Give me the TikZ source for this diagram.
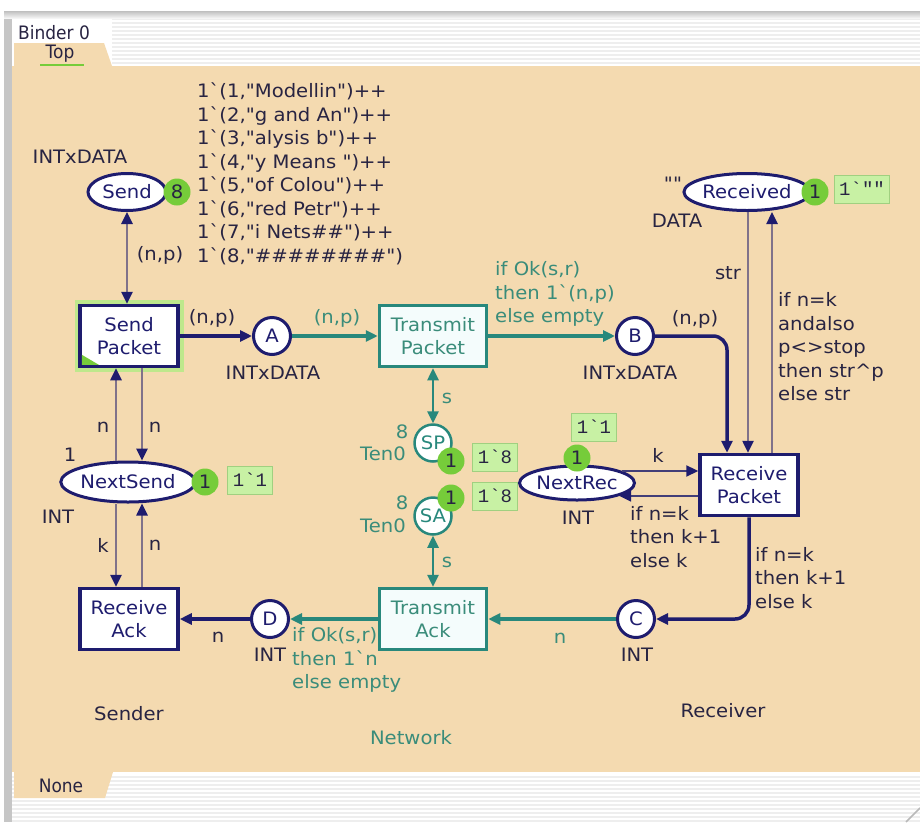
\documentclass[tikz,border=0pt]{standalone}
\usepackage{fontspec}
\setmainfont{DejaVu Sans}[FakeStretch=1.06,Ligatures=TeXOff]
\newfontfamily\tabfont{DejaVu Sans}[FakeStretch=0.92,Ligatures=TeXOff]
\newfontfamily\boxfont{Liberation Mono}[Ligatures=TeXOff]
\usetikzlibrary{shapes.geometric}
\usetikzlibrary{arrows.meta}
\definecolor{navy}{RGB}{30,28,110}
\definecolor{netteal}{RGB}{40,136,124}
\definecolor{nettext}{RGB}{58,140,122}
\definecolor{arcgray}{RGB}{128,114,138}
\definecolor{recarc}{RGB}{66,62,120}
\definecolor{ink}{RGB}{40,36,66}
\definecolor{beige}{RGB}{244,218,176}
\definecolor{tokgreen}{RGB}{118,204,58}
\definecolor{boxgreen}{RGB}{200,241,164}
\definecolor{boxedge}{RGB}{160,208,128}
\definecolor{glowgreen}{RGB}{190,232,140}
\definecolor{netfill}{RGB}{244,252,252}
\newcommand{\marking}[5]{%%
  %% The token count and the box with the current marking.
  \node[tokenStyle] (#1Tok) at (#2) {#3};
  \node[boxStyle] (#1Box) at (#4) {#5};
}
\newcommand{\windowFrame}{%%
  %% White page with the beige sheet.
  \fill[white] (0,0) rectangle (920,822);
  \fill[beige] (12,66) rectangle (920,772);
  %% Stripes of the tab bars.
  \foreach \ys in {19,23,...,63} \draw[gray!13,line width=1.5pt] (112,\ys) -- (920,\ys);
  \foreach \ys in {777,781,...,821} \draw[gray!13,line width=1.5pt] (12,\ys) -- (920,\ys);
  %% The grey border.
  \fill[gray!45] (4,12) rectangle (12,822);
  \shade[top color=gray!50,bottom color=gray!8] (4,11) rectangle (920,18);
  \draw[gray!55,line width=1.5pt] (906,822) -- (920,808);
  %% The tabs.
  \fill[beige] (14,43) -- (104,43) -- (112,66) -- (14,66) -- cycle;
  \fill[beige] (14,772) -- (113,772) -- (105,798) -- (14,798) -- cycle;
  \node[tabStyle,anchor=west] (binderName) at (18,33) {Binder 0};
  \node[tabStyle] (topTab) at (60,54) {Top};
  \draw[tokgreen,line width=1.5pt] (40,65) -- (84,65);
  \node[tabStyle] (noneTab) at (61,786) {None};
}

\begin{document}
\begin{tikzpicture}[%%
  x=1pt,y=-1pt,%%
  font=\fontsize{18.5}{23.5}\selectfont,%%
  >={Triangle[length=12pt,width=11pt]},%%
  placeStyle/.style={ellipse,draw=navy,line width=3pt,fill=white,inner sep=0pt,text=navy},%%
  portStyle/.style={circle,draw=navy,line width=3pt,fill=white,inner sep=0pt,minimum size=37pt,text=navy},%%
  netPortStyle/.style={circle,draw=netteal,line width=2.5pt,fill=white,inner sep=0pt,minimum size=37pt,text=netteal},%%
  transStyle/.style={rectangle,draw=navy,line width=3.5pt,fill=white,minimum width=98pt,minimum height=61pt,inner sep=0pt,align=center,text=navy},%%
  netTransStyle/.style={transStyle,draw=netteal,fill=netfill,minimum width=107pt,text=nettext},%%
  arcStyle/.style={draw=navy,line width=3.5pt},%%
  thinArcStyle/.style={draw=arcgray,line width=2.5pt,>={Triangle[length=12pt,width=11pt,color=navy]}},%%
  recArcStyle/.style={draw=recarc,line width=2.2pt,>={Triangle[length=12pt,width=11pt,color=navy]}},%%
  netArcStyle/.style={draw=netteal,line width=3.5pt},%%
  labelStyle/.style={text=ink,inner sep=0pt},%%
  netLabelStyle/.style={text=nettext,inner sep=0pt},%%
  guardStyle/.style={align=left,anchor=west},%%
  tabStyle/.style={text=ink,inner sep=0pt,font=\tabfont\fontsize{18.5}{20}\selectfont},%%
  tokenStyle/.style={circle,fill=tokgreen,minimum size=27pt,inner sep=0pt,text=ink},%%
  boxStyle/.style={fill=boxgreen,draw=boxedge,line width=1pt,minimum height=28pt,inner xsep=5pt,inner ysep=0pt,font=\boxfont\fontsize{19}{20}\selectfont,text=ink},%%
]
\useasboundingbox (0,0) rectangle (920,822);
%%
\windowFrame
%%
%% The sender.
\node[placeStyle,minimum width=78pt,minimum height=37pt] (send) at (127,192) {Send};
\node[transStyle,preaction={draw=glowgreen,line width=11pt}] (sendPacket) at (129,336) {Send\\Packet};
\node[placeStyle,minimum width=133pt,minimum height=40pt] (nextSend) at (128,482) {NextSend};
\node[transStyle] (receiveAck) at (129,619) {Receive\\Ack};
\node[portStyle] (portA) at (272,336) {A};
\node[portStyle] (portD) at (270,619) {D};
\fill[tokgreen] ([shift={(3.5,-3.5)}]sendPacket.south west) -- ++(0,-10) -- ++(17,10) -- cycle;
%% The network.
\node[netTransStyle] (transmitPacket) at (433,336) {Transmit\\Packet};
\node[netTransStyle] (transmitAck) at (433,619) {Transmit\\Ack};
\node[netPortStyle] (placeSP) at (433,443) {SP};
\node[netPortStyle] (placeSA) at (433,516) {SA};
%% The receiver.
\node[portStyle] (portB) at (635,336) {B};
\node[portStyle] (portC) at (636,619) {C};
\node[placeStyle,minimum width=112pt,minimum height=37pt] (received) at (747,192) {Received};
\node[placeStyle,minimum width=109pt,minimum height=34pt] (nextRec) at (577,483) {NextRec};
\node[transStyle] (receivePacket) at (749,485) {Receive\\Packet};
%%
%% Arcs of the sender.
\draw[thinArcStyle,<->] (send.south) -- (send.south |- sendPacket.north);
\draw[arcStyle,->] (sendPacket.east) -- (portA.west);
\draw[thinArcStyle,->] ([xshift=-12pt]nextSend.north) -- ([xshift=-12pt]nextSend.north |- sendPacket.south);
\draw[thinArcStyle,->] ([xshift=13pt]sendPacket.south) -- ([xshift=13pt]sendPacket.south |- nextSend.north);
\draw[thinArcStyle,->] ([xshift=-12pt]nextSend.south) -- ([xshift=-12pt]nextSend.south |- receiveAck.north);
\draw[thinArcStyle,->] ([xshift=13pt]receiveAck.north) -- ([xshift=13pt]receiveAck.north |- nextSend.south);
\draw[arcStyle,->] (portD.west) -- (receiveAck.east);
%% Arcs of the network.
\draw[netArcStyle,->] (portA.east) -- (transmitPacket.west);
\draw[netArcStyle,->] (transmitPacket.east) -- (portB.west);
\draw[netArcStyle,line width=2.5pt,<->] (transmitPacket.south) -- (placeSP.north);
\draw[netArcStyle,line width=2.5pt,<->] (placeSA.south) -- (transmitAck.north);
\draw[netArcStyle,->] (portC.west) -- (transmitAck.east);
\draw[netArcStyle,->] (transmitAck.west) -- (portD.east);
%% Arcs of the receiver.
\draw[arcStyle,->,rounded corners=14pt] (portB.east) -| ([xshift=-22pt]receivePacket.north);
\draw[thinArcStyle,->] ([xshift=1pt]received.south) -- ([xshift=1pt]received.south |- receivePacket.north);
\draw[thinArcStyle,->] ([xshift=23pt]receivePacket.north) -- ([xshift=23pt]receivePacket.north |- received.south);
\draw[recArcStyle,->] (nextRec.15) -- (nextRec.15 -| receivePacket.west);
\draw[recArcStyle,->] (nextRec.-17 -| receivePacket.west) -- (nextRec.-17);
\draw[arcStyle,->,rounded corners=14pt] (receivePacket.south) |- (portC.east);
%%
%% Markings.
\node[tokenStyle] (sendTok) at (177,192) {8};
\marking{nextSend}{205,482}{1}{250,480}{1`1}
\marking{placeSP}{451,461}{1}{495,457}{1`8}
\marking{placeSA}{451,498}{1}{495,496}{1`8}
\marking{nextRec}{577,458}{1}{594,427}{1`1}
\marking{received}{815,192}{1}{862,189}{1`""}
%%
%% Colour sets and initial markings.
\node[labelStyle] (sendType) at (80,157) {INTxDATA};
\node[labelStyle,guardStyle] (sendInit) at (197,174) {1`(1,"Modellin")++\\1`(2,"g and An")++\\1`(3,"alysis b")++\\1`(4,"y Means ")++\\1`(5,"of Colou")++\\1`(6,"red Petr")++\\1`(7,"i Nets\#\#")++\\1`(8,"\#\#\#\#\#\#\#\#")};
\node[labelStyle] (aType) at (273,373) {INTxDATA};
\node[labelStyle] (bType) at (630,373) {INTxDATA};
\node[labelStyle] (receivedInit) at (673,184) {""};
\node[labelStyle] (receivedType) at (677,221) {DATA};
\node[labelStyle] (nextSendInit) at (70,455) {1};
\node[labelStyle] (nextSendType) at (58,517) {INT};
\node[labelStyle] (nextRecType) at (578,518) {INT};
\node[labelStyle] (cType) at (637,655) {INT};
\node[labelStyle] (dType) at (270,655) {INT};
\node[netLabelStyle] (spInit) at (402,432) {8};
\node[netLabelStyle] (spType) at (383,454) {Ten0};
\node[netLabelStyle] (saInit) at (402,503) {8};
\node[netLabelStyle] (saType) at (383,526) {Ten0};
%%
%% Arc inscriptions.
\node[labelStyle] (sendArcLabel) at (160,255) {(n,p)};
\node[labelStyle] (aInLabel) at (212,318) {(n,p)};
\node[netLabelStyle] (aOutLabel) at (337,318) {(n,p)};
\node[netLabelStyle,guardStyle] (bInLabel) at (495,294) {if Ok(s,r)\\then 1`(n,p)\\else empty};
\node[labelStyle] (bOutLabel) at (695,319) {(n,p)};
\node[labelStyle] (strLabel) at (728,273) {str};
\node[labelStyle,guardStyle] (receivedLabel) at (778,347) {if n=k\\andalso\\p<>stop\\then str\textasciicircum p\\else str};
\node[labelStyle] (kLabel) at (658,455) {k};
\node[labelStyle,guardStyle] (nextRecLabel) at (630,537) {if n=k\\then k+1\\else k};
\node[labelStyle,guardStyle] (cInLabel) at (755,578) {if n=k\\then k+1\\else k};
\node[netLabelStyle] (cOutLabel) at (560,638) {n};
\node[netLabelStyle,guardStyle] (dInLabel) at (292,660) {if Ok(s,r)\\then 1`n\\else empty};
\node[labelStyle] (dOutLabel) at (218,637) {n};
\node[labelStyle] (nsUpLabel) at (103,427) {n};
\node[labelStyle] (nsDownLabel) at (155,427) {n};
\node[labelStyle] (ackDownLabel) at (103,545) {k};
\node[labelStyle] (ackUpLabel) at (155,545) {n};
\node[netLabelStyle] (spArcLabel) at (447,398) {s};
\node[netLabelStyle] (saArcLabel) at (447,562) {s};
%%
%% Module names.
\node[labelStyle] (senderName) at (129,714) {Sender};
\node[netLabelStyle] (networkName) at (411,738) {Network};
\node[labelStyle] (receiverName) at (723,711) {Receiver};
\end{tikzpicture}
\end{document}
